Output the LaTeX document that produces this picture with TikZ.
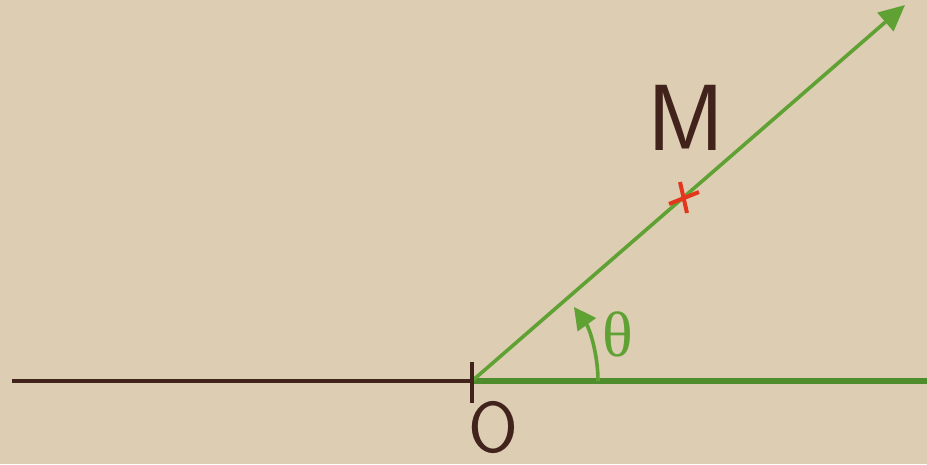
\documentclass[tikz,border=0pt]{standalone}
\usepackage{fontspec}
\newfontfamily\greekfont{Liberation Serif}
\usetikzlibrary{arrows.meta}
\definecolor{paper}{HTML}{DCCDB3}
\definecolor{axisbrown}{HTML}{41231C}
\definecolor{raygreen}{HTML}{5FA233}
\definecolor{axisgreen}{HTML}{4F8C2B}
\definecolor{crossred}{HTML}{E4361C}
\tikzset{
  brownline/.style={draw=axisbrown, line width=4.5pt},
  greenaxis/.style={draw=axisgreen, line width=6pt},
  greenray/.style={draw=raygreen, line width=3.6pt},
  lbl/.style={inner sep=0pt, text=axisbrown, font=\fontsize{72}{72}\selectfont\sffamily},
}
\begin{document}
\begin{tikzpicture}[x=1pt,y=-1pt]
\fill[paper] (0,0) rectangle (927,464);
\useasboundingbox (0,0) rectangle (927,464);
\coordinate (O) at (472,381);
\coordinate (W) at (12,381);
\coordinate (E) at (927,381);
\coordinate (R) at (905,5);
\coordinate (T1) at (472,362);
\coordinate (T2) at (472,403);
\draw[brownline] (W) -- (O);
\draw[greenaxis] (O) -- (E);
\draw[greenray, -{Triangle[length=26pt,width=24pt]}] (O) -- (R);
\draw[draw=axisbrown, line width=4pt] (T1) -- (T2);
% cross
\coordinate (C1a) at (669,204);
\coordinate (C1b) at (699,192);
\coordinate (C2a) at (680,182);
\coordinate (C2b) at (687,213);
\draw[crossred, line width=4pt] (C1a) -- (C1b);
\draw[crossred, line width=4pt] (C2a) -- (C2b);
% angle
\draw[greenray, line width=3.6pt, -{Triangle[length=22pt,width=22pt]}] (598,381) arc[start angle=0, end angle=-36, radius=126];
\node[lbl, font=\fontsize{94}{94}\selectfont\sffamily] (M) at (686,118) {M};
\node[lbl] (Olbl) at (493,428) {O};
\node[inner sep=0pt, text=raygreen, font=\fontsize{64}{64}\selectfont\greekfont] (theta) at (618,334) {θ};
\end{tikzpicture}
\end{document}
